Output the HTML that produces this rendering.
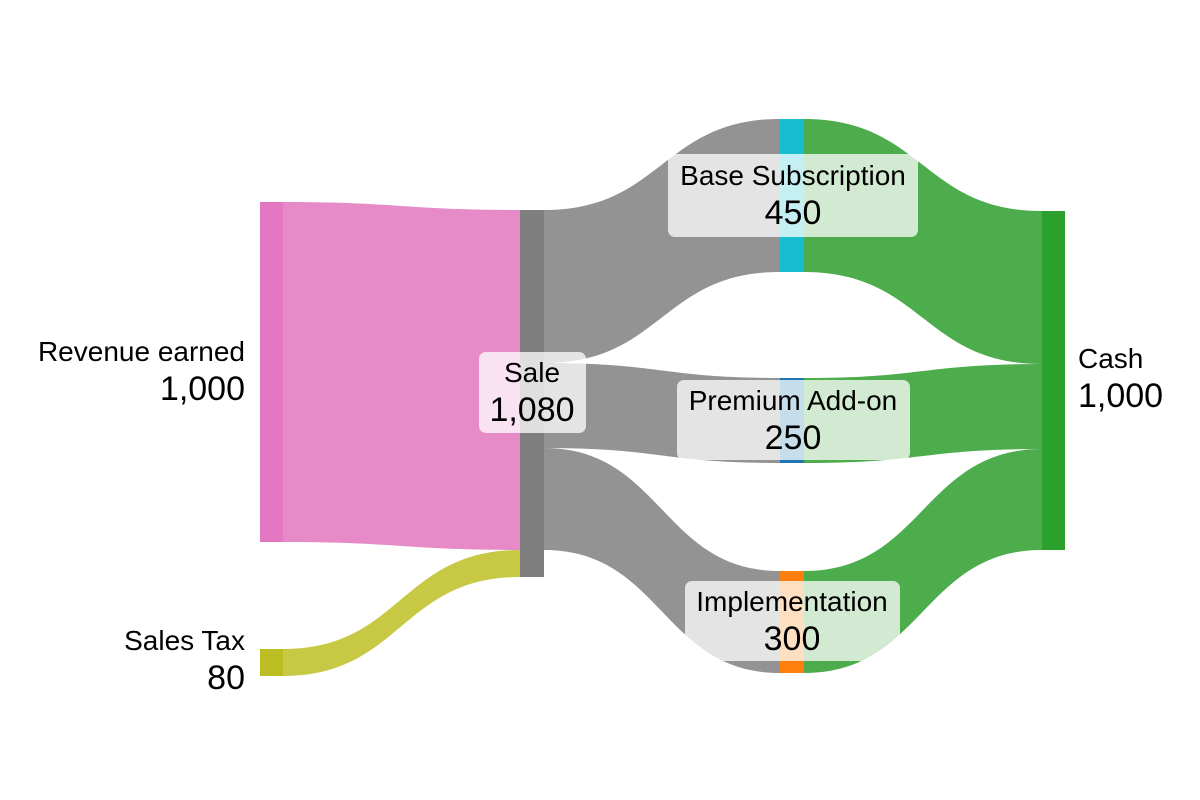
<!DOCTYPE html>
<html><head><meta charset="utf-8"><style>
html,body{margin:0;padding:0;background:#fff;}
svg{display:block;font-family:"Liberation Sans",Arial,sans-serif;}
</style></head><body>
<svg width="1200" height="800" viewBox="0 0 1200 800" xmlns="http://www.w3.org/2000/svg">
<path d="M283,202 C401,202 401,210 520,210 L520,550 C401,550 401,542 283,542 Z" fill="#e68bc8"/>
<path d="M283,649 C401,649 401,550 520,550 L520,577 C401,577 401,676 283,676 Z" fill="#c7c843"/>
<path d="M544,210 C662,210 662,119 780,119 L780,272 C662,272 662,363 544,363 Z" fill="#939393"/>
<path d="M544,363 C662,363 662,378 780,378 L780,463 C662,463 662,448 544,448 Z" fill="#939393"/>
<path d="M544,448 C662,448 662,571 780,571 L780,673 C662,673 662,550 544,550 Z" fill="#939393"/>
<path d="M804,119 C923,119 923,211 1042,211 L1042,364 C923,364 923,272 804,272 Z" fill="#4dad4d"/>
<path d="M804,378 C923,378 923,364 1042,364 L1042,449 C923,449 923,463 804,463 Z" fill="#4dad4d"/>
<path d="M804,571 C923,571 923,449 1042,449 L1042,550 C923,550 923,673 804,673 Z" fill="#4dad4d"/>
<rect x="260" y="202" width="23" height="340" fill="#e377c2"/>
<rect x="260" y="649" width="23" height="27" fill="#bcbd22"/>
<rect x="520" y="210" width="24" height="367" fill="#7f7f7f"/>
<rect x="780" y="119" width="24" height="153" fill="#17becf"/>
<rect x="780" y="378" width="24" height="85" fill="#1f77b4"/>
<rect x="780" y="571" width="24" height="102" fill="#ff7f0e"/>
<rect x="1042" y="211" width="23" height="339" fill="#2ca02c"/>
<g fill="#fff" fill-opacity="0.75">
<rect x="668" y="154" width="250" height="83" rx="7"/>
<rect x="479" y="352" width="107" height="81" rx="7"/>
<rect x="677" y="380" width="233" height="80" rx="7"/>
<rect x="685" y="581" width="215" height="80" rx="7"/>
</g>
<g fill="#000" text-anchor="middle">
<text x="793" y="185" font-size="28">Base Subscription</text>
<text x="793" y="224" font-size="34">450</text>
<text x="532" y="382" font-size="28">Sale</text>
<text x="532" y="421" font-size="34">1,080</text>
<text x="793" y="410" font-size="28">Premium Add-on</text>
<text x="793" y="449" font-size="34">250</text>
<text x="792" y="611" font-size="28">Implementation</text>
<text x="792" y="650" font-size="34">300</text>
</g>
<g fill="#000" text-anchor="end">
<text x="245" y="361" font-size="28">Revenue earned</text>
<text x="245" y="400" font-size="34">1,000</text>
<text x="245" y="650" font-size="28">Sales Tax</text>
<text x="245" y="689" font-size="34">80</text>
</g>
<g fill="#000">
<text x="1078" y="368" font-size="28">Cash</text>
<text x="1078" y="407" font-size="34">1,000</text>
</g>
</svg>
</body></html>
